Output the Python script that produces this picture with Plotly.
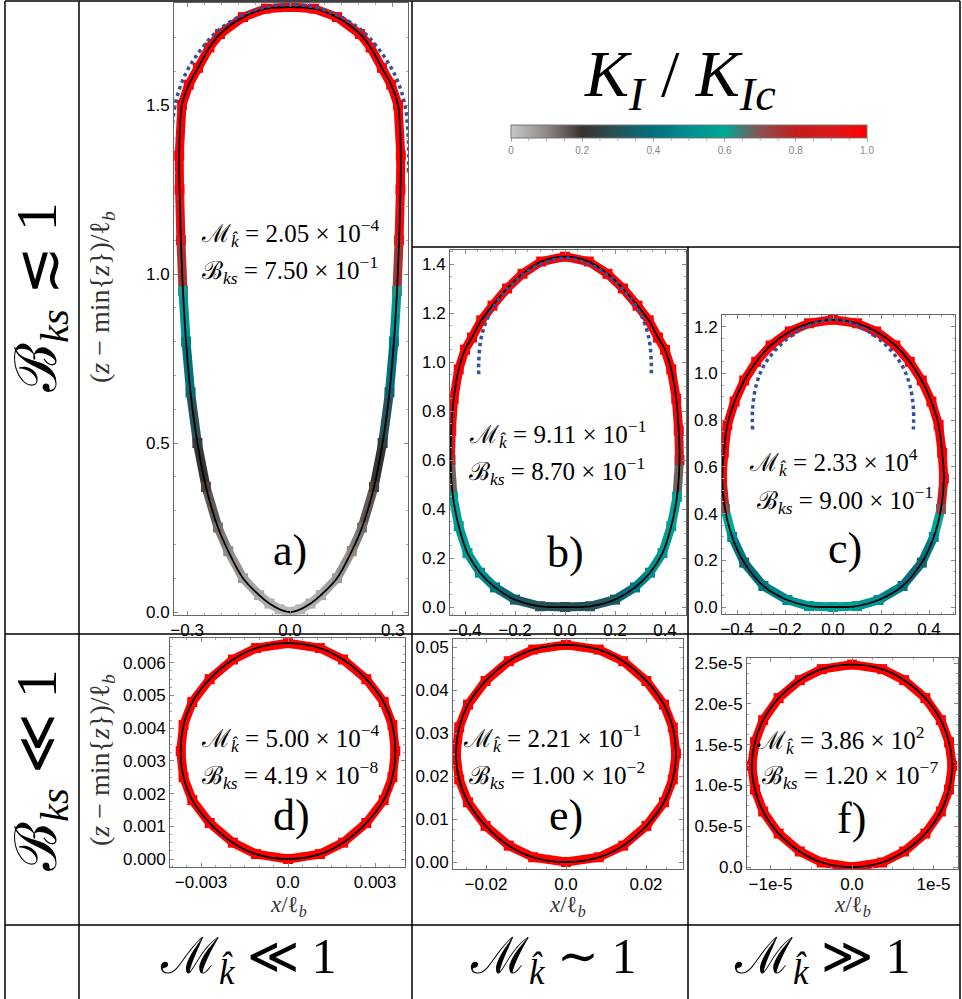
import plotly.graph_objects as go

W, H = 962, 999

# ---------------- data (right halves, bottom -> top) ----------------
a_x = [0.0, 0.03, 0.06, 0.09, 0.137, 0.18, 0.21, 0.245, 0.27, 0.29, 0.303, 0.312, 0.318, 0.322, 0.323, 0.315, 0.295, 0.268, 0.235, 0.204, 0.137, 0.07, 0.0]
a_y = [0.0, 0.008, 0.025, 0.05, 0.10, 0.18, 0.25, 0.37, 0.5, 0.65, 0.8, 0.95, 1.1, 1.25, 1.35, 1.5, 1.56, 1.61, 1.67, 1.71, 1.76, 1.785, 1.79]
a_k = [0.03, 0.03, 0.04, 0.05, 0.07, 0.1, 0.13, 0.18, 0.24, 0.36, 0.44, 0.62, 0.9, 1, 1, 1, 1, 1, 1, 1, 1, 1, 1]
a_dx = [0.345, 0.345, 0.335, 0.31, 0.27, 0.21, 0.14, 0.07, 0.0]
a_dy = [1.3, 1.4, 1.5, 1.58, 1.65, 1.72, 1.765, 1.79, 1.797]

b_x = [0.0, 0.1, 0.2, 0.28, 0.34, 0.39, 0.425, 0.448, 0.458, 0.455, 0.445, 0.425, 0.40, 0.372, 0.335, 0.29, 0.232, 0.17, 0.095, 0.0]
b_y = [0.0, 0.003, 0.03, 0.08, 0.14, 0.22, 0.33, 0.45, 0.6, 0.72, 0.85, 0.97, 1.05, 1.1, 1.17, 1.23, 1.3, 1.36, 1.41, 1.43]
b_k = [0.28, 0.3, 0.33, 0.42, 0.5, 0.55, 0.56, 0.58, 0.78, 0.95, 1, 1, 1, 1, 1, 1, 1, 1, 1, 1]
b_dx = [0.345, 0.345, 0.335, 0.30, 0.228, 0.15, 0.07, 0.0]
b_dy = [0.95, 1.0, 1.1, 1.2, 1.3, 1.37, 1.41, 1.425]

c_x = [0.0, 0.1, 0.19, 0.29, 0.37, 0.42, 0.45, 0.462, 0.455, 0.44, 0.41, 0.37, 0.32, 0.26, 0.18, 0.1, 0.0]
c_y = [0.0, 0.004, 0.03, 0.09, 0.19, 0.3, 0.42, 0.55, 0.66, 0.78, 0.88, 0.97, 1.05, 1.12, 1.18, 1.215, 1.23]
c_k = [0.57, 0.55, 0.5, 0.42, 0.35, 0.5, 0.7, 0.95, 1, 1, 1, 1, 1, 1, 1, 1, 1]
c_dx = [0.335, 0.335, 0.32, 0.29, 0.24, 0.17, 0.09, 0.0]
c_dy = [0.76, 0.85, 0.95, 1.03, 1.1, 1.165, 1.21, 1.232]

d_x = [0.0, 0.0011, 0.0019, 0.0027, 0.0033, 0.0036, 0.0037, 0.0036, 0.0033, 0.0027, 0.0019, 0.0011, 0.0]
d_y = [0.0, 0.00015, 0.0005, 0.0011, 0.0018, 0.0025, 0.0033, 0.0041, 0.0048, 0.0055, 0.0061, 0.00645, 0.0066]
d_k = [1.0] * 13

e_x = [0.0, 0.0082, 0.0143, 0.0201, 0.0245, 0.0267, 0.0275, 0.0267, 0.0245, 0.0201, 0.0143, 0.0082, 0.0]
e_y = [0.0, 0.0011, 0.0038, 0.0084, 0.0139, 0.0192, 0.0252, 0.0313, 0.0366, 0.0421, 0.0467, 0.0494, 0.0505]
e_k = [1.0] * 13

f_x = [0.0, 0.37e-5, 0.64e-5, 0.90e-5, 1.09e-5, 1.19e-5, 1.23e-5, 1.19e-5, 1.09e-5, 0.90e-5, 0.64e-5, 0.37e-5, 0.0]
f_y = [0.0, 0.055e-5, 0.19e-5, 0.41e-5, 0.68e-5, 0.95e-5, 1.24e-5, 1.53e-5, 1.80e-5, 2.07e-5, 2.29e-5, 2.425e-5, 2.48e-5]
f_k = [1.0] * 13

M_vals = ["2.05", "9.11", "2.33", "5.00", "2.21", "3.86"]
M_exps = ["−4", "−1", "4", "−4", "−1", "2"]
B_vals = ["7.50", "8.70", "9.00", "4.19", "1.00", "1.20"]
B_exps = ["−1", "−1", "−1", "−8", "−2", "−7"]
letters = ["a)", "b)", "c)", "d)", "e)", "f)"]

cbar_vals = [0, 0.2, 0.4, 0.6, 0.8, 1.0]
cbar_text = ["0", "0.2", "0.4", "0.6", "0.8", "1.0"]
cbar_minor = [0.05, 0.1, 0.15, 0.25, 0.3, 0.35, 0.45, 0.5, 0.55, 0.65, 0.7, 0.75, 0.85, 0.9, 0.95]

CS = [(0.0, (200, 200, 200)), (0.1, (142, 136, 132)), (0.2, (58, 48, 46)), (0.3, (37, 84, 90)),
      (0.4, (0, 112, 127)), (0.5, (0, 142, 144)), (0.6, (0, 168, 152)), (0.7, (138, 80, 80)),
      (0.8, (194, 30, 30)), (0.9, (216, 26, 26)), (1.0, (255, 0, 0))]
CSCALE = [[k, "rgb(%d,%d,%d)" % c] for k, c in CS]


def kcol(k):
    for i in range(len(CS) - 1):
        k0, c0 = CS[i]
        k1, c1 = CS[i + 1]
        if k <= k1 + 1e-9:
            t = (k - k0) / (k1 - k0)
            return "rgb(%d,%d,%d)" % tuple(round(c0[j] + t * (c1[j] - c0[j])) for j in range(3))
    return "rgb(255,0,0)"


def full(xs, ys, ks=None):
    X = [-v for v in xs] + list(reversed(xs))[1:]
    Y = list(ys) + list(reversed(ys))[1:]
    K = None if ks is None else list(ks) + list(reversed(ks))[1:]
    return X, Y, K


SERIF = "Liberation Serif, DejaVu Serif, serif"
SANS = "Liberation Sans, Arial, sans-serif"

# panel layout: frame px (x0,y0,x1,y1), zero px, px per unit
panels = [
    dict(c=(a_x, a_y, a_k), d=(a_dx, a_dy), fr=(174, 3, 408, 615), x0=290, xs=343, y0=612, ys=338,
         xt=[-0.3, 0.0, 0.3], xtt=["−0.3", "0.0", "0.3"], xm=0.05,
         yt=[0, 0.5, 1.0, 1.5], ytt=["0.0", "0.5", "1.0", "1.5"], ym=0.1),
    dict(c=(b_x, b_y, b_k), d=(b_dx, b_dy), fr=(450, 250, 686, 615), x0=565, xs=250, y0=607, ys=245,
         xt=[-0.4, -0.2, 0, 0.2, 0.4], xtt=["−0.4", "−0.2", "0.0", "0.2", "0.4"], xm=0.05,
         yt=[0, 0.2, 0.4, 0.6, 0.8, 1.0, 1.2, 1.4], ytt=["0.0", "0.2", "0.4", "0.6", "0.8", "1.0", "1.2", "1.4"], ym=0.05),
    dict(c=(c_x, c_y, c_k), d=(c_dx, c_dy), fr=(722, 315, 955, 614), x0=833, xs=240, y0=607, ys=233.5,
         xt=[-0.4, -0.2, 0, 0.2, 0.4], xtt=["−0.4", "−0.2", "0.0", "0.2", "0.4"], xm=0.05,
         yt=[0, 0.2, 0.4, 0.6, 0.8, 1.0, 1.2], ytt=["0.0", "0.2", "0.4", "0.6", "0.8", "1.0", "1.2"], ym=0.05),
    dict(c=(d_x, d_y, d_k), d=None, fr=(170, 638, 405, 867), x0=288, xs=29000, y0=859, ys=32700,
         xt=[-0.003, 0, 0.003], xtt=["−0.003", "0.0", "0.003"], xm=0.0005,
         yt=[0, 0.001, 0.002, 0.003, 0.004, 0.005, 0.006],
         ytt=["0.000", "0.001", "0.002", "0.003", "0.004", "0.005", "0.006"], ym=0.00025),
    dict(c=(e_x, e_y, e_k), d=None, fr=(453, 639, 683, 869), x0=566, xs=4000, y0=862, ys=4300,
         xt=[-0.02, 0, 0.02], xtt=["−0.02", "0.0", "0.02"], xm=0.005,
         yt=[0, 0.01, 0.02, 0.03, 0.04, 0.05], ytt=["0.00", "0.01", "0.02", "0.03", "0.04", "0.05"], ym=0.0025),
    dict(c=(f_x, f_y, f_k), d=None, fr=(747, 658, 958, 869), x0=852, xs=8.15e6, y0=867, ys=8.16e6,
         xt=[-1e-5, 0, 1e-5], xtt=["−1e-5", "0.0", "1e-5"], xm=0.25e-5,
         yt=[0, 0.5e-5, 1.0e-5, 1.5e-5, 2.0e-5, 2.5e-5],
         ytt=["0.0", "0.5e-5", "1.0e-5", "1.5e-5", "2.0e-5", "2.5e-5"], ym=0.125e-5),
]

fig = go.Figure()
layout = dict(width=W, height=H, margin=dict(l=0, r=0, t=0, b=0), paper_bgcolor="white",
              plot_bgcolor="white", showlegend=False)

CB_X0, CB_X1, CB_Y0, CB_T = 511, 867, 125, 13

for i, p in enumerate(panels):
    n = "" if i == 0 else str(i + 1)
    xa, ya = "x" + n, "y" + n
    X, Y, K = full(*p["c"])
    # coloured band
    for j in range(len(X) - 1):
        fig.add_trace(go.Scatter(x=[X[j], X[j + 1]], y=[Y[j], Y[j + 1]], mode="lines",
                                 line=dict(color=kcol((K[j] + K[j + 1]) / 2), width=9),
                                 hoverinfo="skip", xaxis=xa, yaxis=ya))
    marker = dict(symbol="square", size=10, color=K, colorscale=CSCALE, cmin=0, cmax=1, line=dict(width=0))
    if i == 0:
        marker.update(showscale=True, colorbar=dict(
            orientation="h", x=(CB_X0 + CB_X1) / 2 / W, xanchor="center", y=1 - CB_Y0 / H, yanchor="top",
            len=(CB_X1 - CB_X0) / W, lenmode="fraction", thickness=CB_T, thicknessmode="pixels",
            outlinewidth=1, outlinecolor="#777", tickvals=cbar_vals, ticktext=cbar_text,
            ticks="outside", ticklen=4, tickcolor="#aaa", tickfont=dict(size=10, color="#888", family=SANS),
            xpad=0, ypad=0))
    fig.add_trace(go.Scatter(x=X, y=Y, mode="markers", marker=marker, hoverinfo="skip", xaxis=xa, yaxis=ya))
    # black curve
    fig.add_trace(go.Scatter(x=X, y=Y, mode="lines", line=dict(color="black", width=1.8, shape="spline", smoothing=1),
                             hoverinfo="skip", xaxis=xa, yaxis=ya))
    if p["d"] is not None:
        DX, DY, _ = full(*p["d"])
        fig.add_trace(go.Scatter(x=DX, y=DY, mode="lines",
                                 line=dict(color="rgb(48,80,160)", width=3.5, dash="dot", shape="spline"),
                                 hoverinfo="skip", xaxis=xa, yaxis=ya))
    fx0, fy0, fx1, fy1 = p["fr"]
    common = dict(showline=True, linecolor="#666", linewidth=1, mirror="allticks", ticks="inside",
                  ticklen=4, tickcolor="#888", showgrid=False, zeroline=False,
                  tickfont=dict(size=17, family=SANS, color="black"), automargin=False)
    layout["xaxis" + n] = dict(common, domain=[fx0 / W, fx1 / W], anchor=ya,
                               range=[(fx0 - p["x0"]) / p["xs"], (fx1 - p["x0"]) / p["xs"]],
                               tickvals=p["xt"], ticktext=p["xtt"],
                               minor=dict(ticks="inside", ticklen=2, tickcolor="#aaa", dtick=p["xm"], tick0=0))
    layout["yaxis" + n] = dict(common, domain=[1 - fy1 / H, 1 - fy0 / H], anchor=xa,
                               range=[(p["y0"] - fy1) / p["ys"], (p["y0"] - fy0) / p["ys"]],
                               tickvals=p["yt"], ticktext=p["ytt"],
                               minor=dict(ticks="inside", ticklen=2, tickcolor="#aaa", dtick=p["ym"], tick0=0))

fig.update_layout(**layout)

anns = []


def A(x, y, text, size, angle=0, color="black", family=SERIF):
    anns.append(dict(x=x / W, y=1 - y / H, xref="paper", yref="paper", text=text, showarrow=False,
                     xanchor="center", yanchor="middle", textangle=angle,
                     font=dict(size=size, color=color, family=family)))


M_pos = [(290, 233), (557, 434), (833, 462), (290, 738), (552, 738), (840, 740)]
B_pos = [(290, 270), (557, 471), (845, 500), (290, 775), (557, 775), (850, 775)]
L_pos = [(290, 550), (565, 552), (845, 548), (291, 815), (566, 815), (851, 818)]
for i in range(6):
    A(*M_pos[i], "ℳ<sub><i>k\u0302</i></sub> = %s × 10<sup>%s</sup>" % (M_vals[i], M_exps[i]), 25)
    A(*B_pos[i], "ℬ<sub><i>ks</i></sub> = %s × 10<sup>%s</sup>" % (B_vals[i], B_exps[i]), 25)
    A(*L_pos[i], letters[i], 44)

ytitle = "(<i>z</i> − min{<i>z</i>})/ℓ<sub><i>b</i></sub>"
A(101, 297, ytitle, 28, angle=-90, color="#333")
A(101, 760, ytitle, 28, angle=-90, color="#333")
for xc in (288, 567, 852):
    A(xc, 906, "<i>x</i>/ℓ<sub><i>b</i></sub>", 23, color="#333")

A(40, 297, "ℬ<sub><i>ks</i></sub> ≲ 1", 58, angle=-90)
A(40, 770, "ℬ<sub><i>ks</i></sub> ≪ 1", 58, angle=-90)
A(248, 960, "ℳ<sub><i>k\u0302</i></sub> ≪ 1", 50)
A(553, 960, "ℳ<sub><i>k\u0302</i></sub> ∼ 1", 50)
A(822, 960, "ℳ<sub><i>k\u0302</i></sub> ≫ 1", 50)
A(680, 78, "<i>K</i><sub><i>I</i></sub> / <i>K</i><sub><i>Ic</i></sub>", 66)

# table lines
shapes = []


def L(x0, y0, x1, y1, color="black", width=1.5):
    shapes.append(dict(type="line", xref="paper", yref="paper", x0=x0 / W, y0=1 - y0 / H, x1=x1 / W, y1=1 - y1 / H,
                       line=dict(color=color, width=width)))


L(5, 1, 960, 1)
L(412, 247, 960, 247)
L(5, 634, 960, 634)
L(5, 925, 960, 925)
L(5, 1, 5, 999)
L(79, 1, 79, 999)
L(412, 1, 412, 999)
L(688, 247, 688, 999)
L(960, 1, 960, 999)

# colorbar minor ticks
for v in cbar_minor:
    xp = CB_X0 + v * (CB_X1 - CB_X0)
    L(xp, CB_Y0 + CB_T, xp, CB_Y0 + CB_T + 3, color="#bbb", width=1)

fig.update_layout(annotations=anns, shapes=shapes)
fig.write_html("out.html")
